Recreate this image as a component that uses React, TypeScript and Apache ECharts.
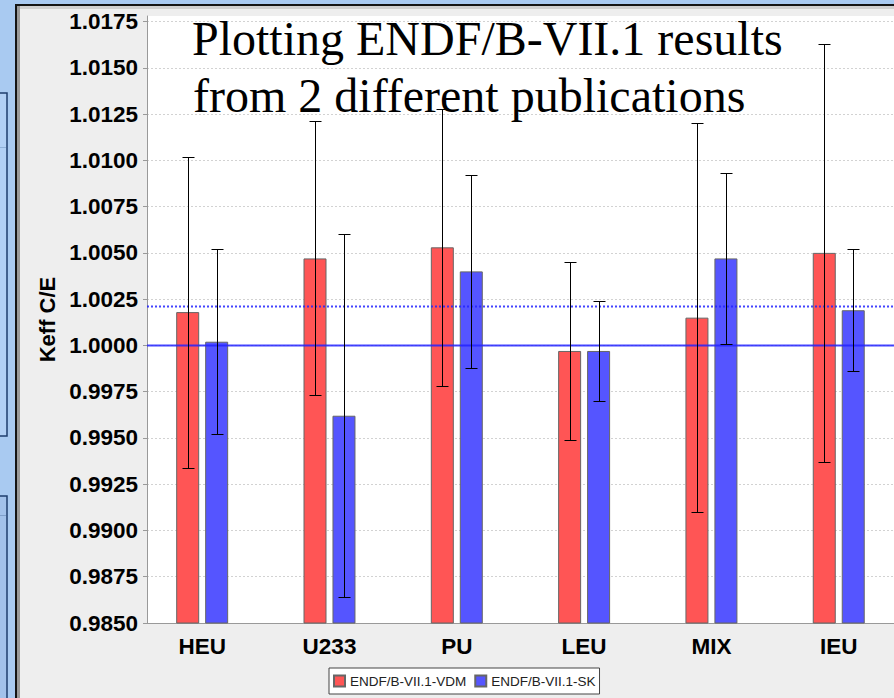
import React, { useEffect, useRef } from "react";
import * as echarts from "echarts";

// Benchmark families on the category axis
const categories = ["HEU", "U233", "PU", "LEU", "MIX", "IEU"];

// Keff calculated / experimental ratios and their one-sigma uncertainties
const seriesNames = ["ENDF/B-VII.1-VDM", "ENDF/B-VII.1-SK"];
const vdmValues = [1.0018, 1.0047, 1.0053, 0.9997, 1.0015, 1.005];
const vdmErrors = [0.0084, 0.0074, 0.0075, 0.0048, 0.0105, 0.0113];
const skValues = [1.0002, 0.9962, 1.004, 0.9997, 1.0047, 1.0019];
const skErrors = [0.005, 0.0098, 0.0052, 0.0027, 0.0046, 0.0033];

// Reference lines: unity and the overall average
const unityValue = 1.0;
const averageValue = 1.0021;

// Value-axis tick labels
const yTicks = [
  0.985, 0.9875, 0.99, 0.9925, 0.995, 0.9975, 1.0, 1.0025, 1.005, 1.0075, 1.01,
  1.0125, 1.015, 1.0175,
];

const titleLines = ["Plotting ENDF/B-VII.1 results", "from 2 different publications"];

const SANS = '"Liberation Sans", Arial, sans-serif';
const SERIF = '"Liberation Serif", "Times New Roman", serif';
const RED = "#ff5555";
const BLUE = "#5555ff";

// category axis span (category index units), first category sits inside the left margin
const X_MIN = -0.4334;
const X_MAX = 5.434;

function errorBarSeries(values: number[], errors: number[], shift: number) {
  return {
    type: "custom",
    silent: true,
    z: 6,
    clip: true,
    data: values.map((v, i) => [i, v - errors[i], v + errors[i]]),
    encode: { x: 0, y: [1, 2] },
    renderItem: (_params: any, api: any) => {
      const x = api.value(0);
      const lo = api.coord([x, api.value(1)]);
      const hi = api.coord([x, api.value(2)]);
      const cx = Math.round(lo[0] + shift) + 0.5;
      const yl = Math.round(lo[1]) + 0.5;
      const yh = Math.round(hi[1]) + 0.5;
      const cap = 6;
      const st = { stroke: "#000", lineWidth: 1 };
      return {
        type: "group",
        children: [
          { type: "line", shape: { x1: cx, y1: yh, x2: cx, y2: yl }, style: st },
          { type: "line", shape: { x1: cx - cap, y1: yh, x2: cx + cap, y2: yh }, style: st },
          { type: "line", shape: { x1: cx - cap, y1: yl, x2: cx + cap, y2: yl }, style: st },
        ],
      };
    },
  };
}

function referenceLine(value: number, dash: any) {
  return {
    type: "line",
    silent: true,
    z: 4,
    symbol: "none",
    showSymbol: false,
    data: [
      [X_MIN, value],
      [X_MAX, value],
    ],
    lineStyle: { color: "rgba(35,35,255,0.85)", width: 2, type: dash },
  };
}

export default function App() {
  const ref = useRef<HTMLDivElement>(null);

  useEffect(() => {
    if (!ref.current) return;
    const chart = echarts.init(ref.current, undefined, { renderer: "svg" });
    const tickIdx = categories.map((_, i) => i);

    chart.setOption({
      animation: false,
      backgroundColor: "#eeeeee",
      grid: {
        left: 147,
        right: 0,
        top: 16,
        bottom: 75,
        show: true,
        backgroundColor: "#ffffff",
        borderWidth: 0,
      },
      legend: {
        data: seriesNames,
        left: 329,
        top: 668,
        icon: "rect",
        itemWidth: 11,
        itemHeight: 11,
        itemGap: 8,
        padding: [6, 4, 6, 4],
        borderColor: "#444",
        borderWidth: 1,
        backgroundColor: "#ffffff",
        selectedMode: false,
        textStyle: { fontFamily: SANS, fontSize: 13.5, color: "#222" },
      },
      xAxis: {
        type: "value",
        min: X_MIN,
        max: X_MAX,
        axisLine: { show: true, onZero: false, lineStyle: { color: "#999" } },
        axisTick: { show: false },
        splitLine: { show: false },
        axisLabel: {
          customValues: tickIdx,
          formatter: (v: number) => categories[Math.round(v)] ?? "",
          fontFamily: SANS,
          fontSize: 22.5,
          fontWeight: "bold",
          color: "#000",
          margin: 12,
        },
      },
      yAxis: {
        type: "value",
        min: 0.985,
        max: 1.0178,
        interval: 0.0025,
        name: "Keff C/E",
        nameLocation: "middle",
        nameGap: 88,
        nameTextStyle: { fontFamily: SANS, fontSize: 22, fontWeight: "bold", color: "#000" },
        axisLine: { show: true, onZero: false, lineStyle: { color: "#999" } },
        axisTick: { show: true, length: 4, customValues: yTicks, lineStyle: { color: "#999" } },
        axisLabel: {
          customValues: yTicks,
          formatter: (v: number) => v.toFixed(4),
          fontFamily: SANS,
          fontSize: 22.5,
          fontWeight: "bold",
          color: "#000",
          margin: 9,
        },
        splitLine: { show: true, lineStyle: { color: "#d2d2d2", type: [2, 2], width: 1 } },
      },
      series: [
        {
          type: "bar",
          name: seriesNames[0],
          data: vdmValues.map((v, i) => [i, v]),
          barWidth: 23,
          barGap: "26%",
          z: 2,
          itemStyle: { color: RED, borderColor: "#666", borderWidth: 1 },
        },
        {
          type: "bar",
          name: seriesNames[1],
          data: skValues.map((v, i) => [i, v]),
          barWidth: 23,
          barGap: "26%",
          z: 2,
          itemStyle: { color: BLUE, borderColor: "#666", borderWidth: 1 },
        },
        referenceLine(unityValue, "solid"),
        referenceLine(averageValue, [2, 2]),
        errorBarSeries(vdmValues, vdmErrors, -14.5),
        errorBarSeries(skValues, skErrors, 14.5),
      ],
      graphic: [
        // surrounding desktop window frame
        { type: "rect", silent: true, z: 50, shape: { x: 0, y: 0, width: 15, height: 698 }, style: { fill: "#a9caf1" } },
        { type: "rect", silent: true, z: 50, shape: { x: 0, y: 0, width: 894, height: 4 }, style: { fill: "#a9caf1" } },
        { type: "rect", silent: true, z: 51, shape: { x: -3, y: 93, width: 10, height: 343 }, style: { fill: "#b2d0f5", stroke: "#1f3e6d", lineWidth: 1.5 } },
        { type: "line", silent: true, z: 52, shape: { x1: 0, y1: 147.5, x2: 6, y2: 147.5 }, style: { stroke: "#8fb0d8", lineWidth: 1 } },
        { type: "rect", silent: true, z: 51, shape: { x: -3, y: 496, width: 10, height: 210 }, style: { fill: "#a2c1ea", stroke: "#1f3e6d", lineWidth: 1.5 } },
        { type: "line", silent: true, z: 52, shape: { x1: 0, y1: 515.5, x2: 6, y2: 515.5 }, style: { stroke: "#7f9fca", lineWidth: 1 } },
        { type: "rect", silent: true, z: 53, shape: { x: 15, y: 4, width: 2, height: 694 }, style: { fill: "#141414" } },
        { type: "rect", silent: true, z: 53, shape: { x: 15, y: 4, width: 879, height: 2 }, style: { fill: "#141414" } },
        { type: "rect", silent: true, z: 53, shape: { x: 17, y: 6, width: 877, height: 3 }, style: { fill: "#d0d0d0" } },
        { type: "rect", silent: true, z: 53, shape: { x: 17, y: 6, width: 3, height: 692 }, style: { fill: "#9a9a9a" } },
        // overlay caption
        {
          type: "text",
          silent: true,
          z: 100,
          x: 192,
          y: 38,
          style: { text: titleLines[0], font: `48px ${SERIF}`, fill: "#000", align: "left", verticalAlign: "middle" },
        },
        {
          type: "text",
          silent: true,
          z: 100,
          x: 193,
          y: 95,
          style: { text: titleLines[1], font: `48px ${SERIF}`, fill: "#000", align: "left", verticalAlign: "middle" },
        },
      ],
    });

    return () => chart.dispose();
  }, []);

  return (
    <div
      ref={ref}
      style={{ position: "absolute", left: 0, top: 0, width: 894, height: 698 }}
    />
  );
}
